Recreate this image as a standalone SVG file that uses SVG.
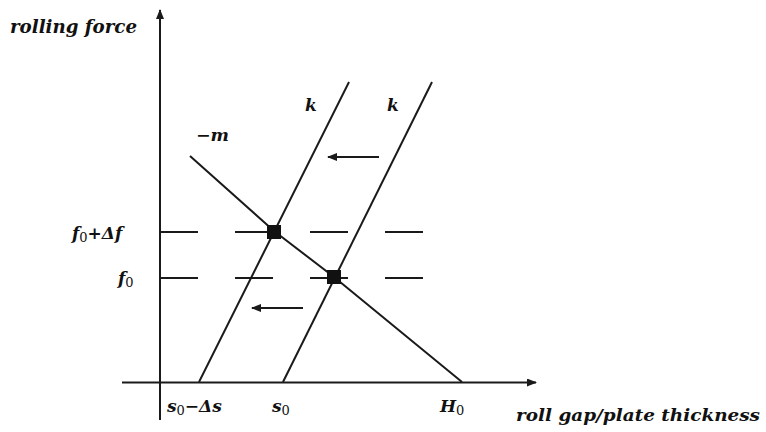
<svg xmlns="http://www.w3.org/2000/svg" width="766" height="432" viewBox="0 0 766 432">
<style>
.ln{stroke:#1a1a1a;stroke-width:2;fill:none}
.ax{stroke:#1a1a1a;stroke-width:2;fill:none}
.dash{stroke:#1a1a1a;stroke-width:2;stroke-dasharray:38 37;fill:none}
.t{font-family:"DejaVu Serif","Liberation Serif",serif;font-weight:bold;font-style:italic;fill:#111}
.m{font-family:"DejaVu Serif","Liberation Serif",serif;font-weight:bold;font-style:italic;fill:#111;font-size:17px}
.sub{font-style:normal;font-weight:normal;font-size:13px}
.sq{fill:#111}
</style>
<defs>
<marker id="ah" viewBox="0 0 10 8" refX="9" refY="4" markerWidth="10" markerHeight="8" markerUnits="userSpaceOnUse" orient="auto">
<path d="M0,0 L10,4 L0,8 Z" fill="#1a1a1a"/>
</marker>
</defs>
<g id="axes">
<line class="ax" x1="160" y1="420" x2="160" y2="10" marker-end="url(#ah)"/>
<line class="ax" x1="122" y1="382.5" x2="536" y2="382.5" marker-end="url(#ah)"/>
</g>
<g id="connectors">
<line class="dash" x1="160" y1="232" x2="425" y2="232"/>
<line class="dash" x1="160" y1="278" x2="425" y2="278"/>
<line class="ln" x1="199" y1="382" x2="349" y2="82"/>
<line class="ln" x1="283" y1="382" x2="432" y2="82"/>
<polyline class="ln" points="190,156 274,231 334,277 462,382"/>
<line class="ln" x1="379" y1="157" x2="328" y2="157" marker-end="url(#ah)"/>
<line class="ln" x1="303" y1="308" x2="252" y2="308" marker-end="url(#ah)"/>
</g>
<g id="points">
<rect class="sq" x="267" y="225" width="14" height="14"/>
<rect class="sq" x="327" y="270" width="14" height="14"/>
</g>
<g id="labels">
<text class="t" x="10" y="33" font-size="19" textLength="127" lengthAdjust="spacingAndGlyphs">rolling force</text>
<text class="t" x="516" y="421" font-size="16.5" textLength="244" lengthAdjust="spacingAndGlyphs">roll gap/plate thickness</text>
<text class="m" x="305" y="111">k</text>
<text class="m" x="387" y="111">k</text>
<text class="m" x="196" y="141" textLength="33" lengthAdjust="spacingAndGlyphs">−m</text>
<text class="m" x="72" y="239">f<tspan class="sub" dy="3">0</tspan><tspan dy="-3">+Δf</tspan></text>
<text class="m" x="118" y="284">f<tspan class="sub" dy="3">0</tspan></text>
<text class="m" x="167" y="412">s<tspan class="sub" dy="3">0</tspan><tspan dy="-3">−Δs</tspan></text>
<text class="m" x="272" y="412">s<tspan class="sub" dy="3">0</tspan></text>
<text class="m" x="440" y="412">H<tspan class="sub" dy="3">0</tspan></text>
</g>
</svg>
